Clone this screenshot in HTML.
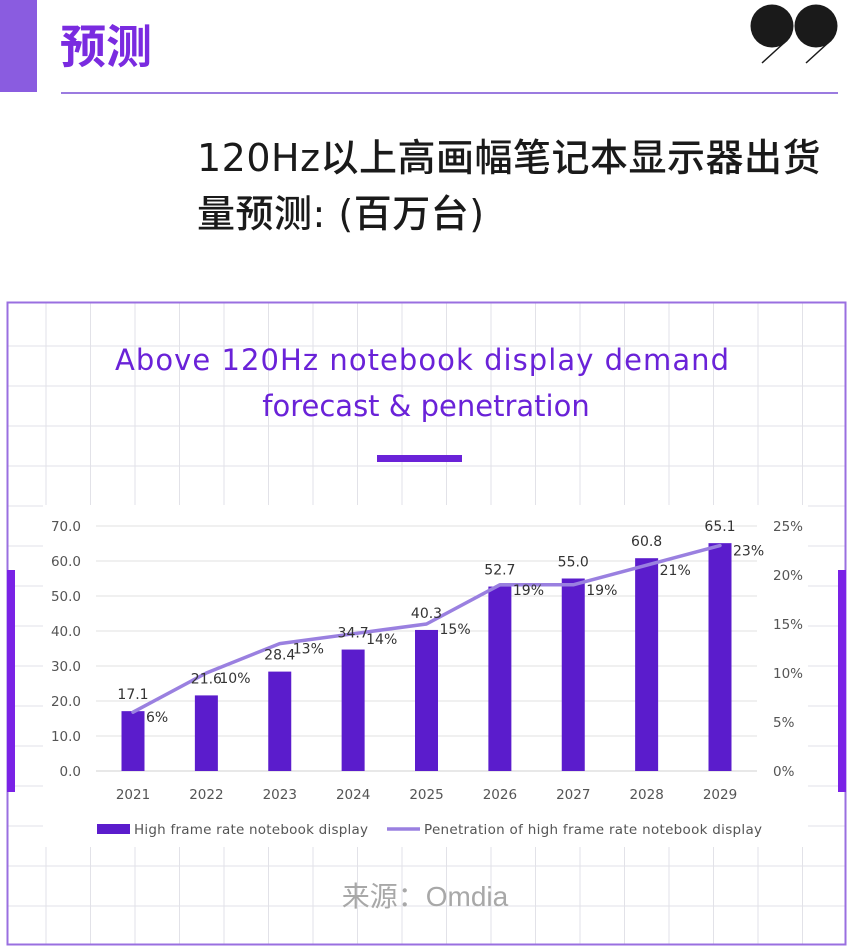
<!DOCTYPE html>
<html><head><meta charset="utf-8">
<style>
body{margin:0;width:847px;height:947px;background:#fff;position:relative;overflow:hidden;font-family:"Liberation Sans","Noto Sans CJK SC",sans-serif}
.abs{position:absolute}
</style></head>
<body>
<div class="abs" style="left:0;top:0;width:37px;height:92px;background:#8a5ce0"></div>
<div class="abs" style="left:60px;top:16px;font-size:46px;font-weight:bold;color:#7a2be0;font-family:'Noto Sans CJK SC',sans-serif;line-height:56px">预测</div>
<div class="abs" style="left:61px;top:92px;width:777px;height:2px;background:#9b7be0"></div>
<svg class="abs" style="left:745px;top:0" width="100" height="70">
<circle cx="27" cy="26" r="21.5" fill="#1a1a1a"/><circle cx="71" cy="26" r="21.5" fill="#1a1a1a"/>
<line x1="40" y1="42" x2="17" y2="63" stroke="#1a1a1a" stroke-width="1.5"/><line x1="84" y1="42" x2="61" y2="63" stroke="#1a1a1a" stroke-width="1.5"/>
</svg>
<div class="abs" style="left:197px;top:130px;width:650px;font-size:38px;letter-spacing:0.5px;line-height:56px;color:#1a1a1a;font-weight:500;font-family:'DejaVu Sans','Noto Sans CJK SC',sans-serif">120Hz以上高画幅笔记本显示器出货<br>量预测: (百万台)</div>

<svg class="abs" style="left:0;top:0" width="847" height="947">
<g id="bggrid" stroke="#e2e2e8" stroke-width="1"></g>
<rect x="43" y="505" width="765" height="342" fill="#fff"/>
<rect x="7.5" y="302.5" width="838" height="642" fill="none" stroke="#9a6fe0" stroke-width="2"/>
<rect x="7" y="570" width="8" height="222" fill="#7a22e6"/>
<rect x="838" y="570" width="8" height="222" fill="#7a22e6"/>
<text x="422" y="370" text-anchor="middle" font-size="29" fill="#6a22d8" font-family="DejaVu Sans, sans-serif" textLength="614">Above 120Hz notebook display demand</text>
<text x="426" y="416" text-anchor="middle" font-size="29" fill="#6a22d8" font-family="DejaVu Sans, sans-serif">forecast &amp; penetration</text>
<rect x="377" y="455" width="85" height="7" fill="#6a22d8"/>
<g id="plot"></g>
<text x="425" y="906" text-anchor="middle" font-size="28" fill="#a8a8a8" font-family="Liberation Sans, Noto Sans CJK SC, sans-serif">来源：Omdia</text>
</svg>
<script>
const years=["2021","2022","2023","2024","2025","2026","2027","2028","2029"];
const shipments=[17.1,21.6,28.4,34.7,40.3,52.7,55.0,60.8,65.1];
const penetration=[6,10,13,14,15,19,19,21,23];
const leftTicks=[0,10,20,30,40,50,60,70];
const rightTicks=[0,5,10,15,20,25];
const NS="http://www.w3.org/2000/svg";
function mk(t,a,p){const e=document.createElementNS(NS,t);for(const k in a)e.setAttribute(k,a[k]);p.appendChild(e);return e;}
const bg=document.getElementById('bggrid');
for(let x=46;x<846;x+=44.5){const l=mk('line',{x1:x,y1:303,x2:x,y2:945},bg);}
for(let y=346;y<945;y+=40){const l=mk('line',{x1:8,y1:y,x2:845,y2:y},bg);}
const g=document.getElementById('plot');
const y0=771,yTop=526,xL=96,xR=757;
const yL=v=>y0-(v/70)*(y0-yTop);
const yR=v=>y0-(v/25)*(y0-yTop);
const step=(720-133)/(years.length-1);
const xC=i=>133+i*step;
const F="DejaVu Sans, sans-serif";
leftTicks.forEach(t=>{
 const l=mk('line',{x1:xL,x2:xR,y1:yL(t),y2:yL(t),stroke:t===0?'#d0d0d0':'#e0e0e0','stroke-width':1},g);
 
 const tx=mk('text',{x:81,y:yL(t)+5,'text-anchor':'end','font-size':13.5,fill:'#555','font-family':F},g);tx.textContent=t.toFixed(1);
 
});
rightTicks.forEach(t=>{
 const tx=mk('text',{x:773,y:yR(t)+5,'font-size':13.5,fill:'#555','font-family':F},g);tx.textContent=t+'%';
 
});
years.forEach((yr,i)=>{
 const b=mk('rect',{x:xC(i)-11.5,y:yL(shipments[i]),width:23,height:y0-yL(shipments[i]),fill:'#5b1ccc'},g);
 
 const tx=mk('text',{x:xC(i),y:799,'text-anchor':'middle','font-size':13.5,fill:'#555','font-family':F},g);tx.textContent=yr;
 
});
let d='';penetration.forEach((p,i)=>{d+=(i?'L':'M')+xC(i)+','+yR(p);});
const ln=mk('path',{d:d,fill:'none',stroke:'#9a80e0','stroke-width':3.5,'stroke-linejoin':'round','stroke-linecap':'round'},g);

years.forEach((yr,i)=>{
 const v=mk('text',{x:xC(i),y:yL(shipments[i])-12,'text-anchor':'middle','font-size':14,fill:'#333','font-family':F},g);v.textContent=shipments[i].toFixed(1);
 
 const p=mk('text',{x:xC(i)+13,y:yR(penetration[i])+10,'font-size':14,fill:'#333','font-family':F},g);p.textContent=penetration[i]+'%';
 
});
const ls=mk('rect',{x:97,y:824,width:33,height:10,fill:'#5b1ccc'},g);

const lt=mk('text',{x:134,y:834,'font-size':13.5,fill:'#555','font-family':F,textLength:234},g);lt.textContent='High frame rate notebook display';

const ll=mk('line',{x1:387,x2:420,y1:829,y2:829,stroke:'#9a80e0','stroke-width':3.5},g);

const lt2=mk('text',{x:424,y:834,'font-size':13.5,fill:'#555','font-family':F,textLength:338},g);lt2.textContent='Penetration of high frame rate notebook display';

</script>
</body></html>
